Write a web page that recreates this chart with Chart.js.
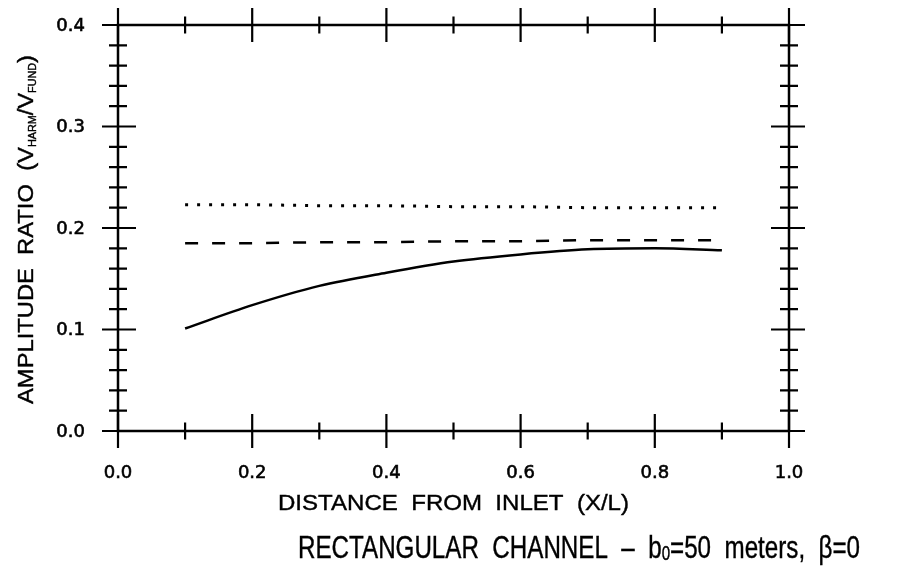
<!DOCTYPE html>
<html>
<head>
<meta charset="utf-8">
<script src="https://cdn.jsdelivr.net/npm/chart.js@4"></script>
<style>
  html, body { margin: 0; padding: 0; background: #fff; }
  canvas { display: block; }
</style>
</head>
<body>
<canvas id="chart" width="899" height="569"></canvas>
<script>
// values
const distance = [0.1, 0.2, 0.3, 0.4, 0.5, 0.6, 0.7, 0.8, 0.9];
const solidRatio = [0.101, 0.124, 0.143, 0.156, 0.167, 0.174, 0.179, 0.180, 0.178];
const dashedRatio = [0.185, 0.185, 0.186, 0.186, 0.187, 0.187, 0.188, 0.188, 0.188];
const dottedRatio = [0.223, 0.223, 0.222, 0.222, 0.221, 0.221, 0.220, 0.220, 0.220];
const xTicks = [0.0, 0.1, 0.2, 0.3, 0.4, 0.5, 0.6, 0.7, 0.8, 0.9, 1.0];
const xLabels = [0.0, 0.2, 0.4, 0.6, 0.8, 1.0];
const yTicks = [0, 0.02, 0.04, 0.06, 0.08, 0.1, 0.12, 0.14, 0.16, 0.18, 0.2, 0.22, 0.24, 0.26, 0.28, 0.3, 0.32, 0.34, 0.36, 0.38, 0.4];
const yLabels = [0.0, 0.1, 0.2, 0.3, 0.4];

const FONT = '"Liberation Sans", Arial, sans-serif';
const TICK_FONT = '"DejaVu Sans", sans-serif';
const INK = '#000';

const toPoints = (ys) => ys.map((y, i) => ({ x: distance[i], y }));

// text with a thin outline so it looks like pen-plotter lettering
function inkText(ctx, text, x, y) {
  ctx.fillText(text, x, y);
  ctx.strokeText(text, x, y);
}

// draws text squeezed/stretched to a given width
function fitText(ctx, pieces, x, y, width) {
  let total = 0;
  pieces.forEach(p => {
    ctx.font = `${p.size}px ${FONT}`;
    total += ctx.measureText(p.text).width;
  });
  ctx.save();
  ctx.translate(x, y);
  ctx.scale(width / total, 1);
  let cx = 0;
  pieces.forEach(p => {
    ctx.font = `${p.size}px ${FONT}`;
    inkText(ctx, p.text, cx, p.dy || 0);
    cx += ctx.measureText(p.text).width;
  });
  ctx.restore();
}

const framePlugin = {
  id: 'frame',
  afterDraw(chart) {
    const ctx = chart.ctx;
    const xs = chart.scales.x;
    const ys = chart.scales.y;
    const { left, right, top, bottom } = chart.chartArea;
    ctx.save();
    ctx.strokeStyle = INK;
    ctx.fillStyle = INK;
    ctx.lineWidth = 2.5;
    ctx.lineCap = 'butt';
    ctx.strokeRect(left, top, right - left, bottom - top);

    ctx.lineWidth = 2.2;
    xTicks.forEach((v, i) => {
      const px = xs.getPixelForValue(v);
      const len = i % 2 === 0 ? 17 : 8.5;
      ctx.beginPath();
      ctx.moveTo(px, bottom - len); ctx.lineTo(px, bottom + len);
      ctx.moveTo(px, top - len); ctx.lineTo(px, top + len);
      ctx.stroke();
    });
    yTicks.forEach((v, i) => {
      const py = ys.getPixelForValue(v);
      const major = i % 5 === 0;
      const inL = major ? 18 : 9, outL = major ? 16 : 9;
      ctx.beginPath();
      ctx.moveTo(left - outL, py); ctx.lineTo(left + inL, py);
      ctx.moveTo(right - inL, py); ctx.lineTo(right + outL, py);
      ctx.stroke();
    });

    // tick labels
    ctx.lineWidth = 0.6;
    ctx.font = `18px ${TICK_FONT}`;
    ctx.textBaseline = 'middle';
    ctx.textAlign = 'right';
    yLabels.forEach(v => {
      inkText(ctx, v.toFixed(1), 85, ys.getPixelForValue(v) + 1);
    });
    ctx.textAlign = 'center';
    xLabels.forEach(v => {
      inkText(ctx, v.toFixed(1), xs.getPixelForValue(v), 473);
    });

    ctx.lineWidth = 0.4;
    ctx.textAlign = 'left';
    ctx.textBaseline = 'alphabetic';
    // x title
    fitText(ctx, [{ text: 'DISTANCE  FROM  INLET  (X/L)', size: 22 }], 278, 510, 351);

    // caption
    fitText(ctx, [
      { text: 'RECTANGULAR  CHANNEL  \u2013  b', size: 32 },
      { text: '0', size: 20, dy: 2 },
      { text: '=50  meters,  ', size: 32 },
      { text: '\u03b2=0', size: 32 }
    ], 298, 558, 562);

    // y title, rotated
    ctx.save();
    ctx.translate(33, 404);
    ctx.rotate(-Math.PI / 2);
    fitText(ctx, [
      { text: 'AMPLITUDE  RATIO  (V', size: 22 },
      { text: 'HARM', size: 10, dy: 3 },
      { text: '/V', size: 22 },
      { text: 'FUND', size: 10, dy: 3 },
      { text: ')', size: 22 }
    ], 0, 0, 349);
    ctx.restore();
    ctx.restore();
  }
};

new Chart(document.getElementById('chart'), {
  type: 'line',
  data: {
    datasets: [
      {
        label: 'solid',
        data: toPoints(solidRatio),
        borderColor: INK,
        borderWidth: 2.5,
        pointRadius: 0,
        cubicInterpolationMode: 'monotone',
      },
      {
        label: 'dashed',
        data: toPoints(dashedRatio),
        borderColor: INK,
        borderWidth: 2.5,
        borderDash: [13, 14],
        pointRadius: 0,
      },
      {
        label: 'dotted',
        data: toPoints(dottedRatio),
        borderColor: INK,
        borderWidth: 3,
        borderDash: [3, 9],
        pointRadius: 0,
      },
    ],
  },
  options: {
    responsive: false,
    animation: false,
    devicePixelRatio: 1,
    layout: { padding: { left: 118, right: 110, top: 25, bottom: 138 } },
    plugins: { legend: { display: false }, tooltip: { enabled: false } },
    scales: {
      x: { type: 'linear', min: 0, max: 1, display: false },
      y: { type: 'linear', min: 0, max: 0.4, display: false },
    },
  },
  plugins: [framePlugin],
});
</script>
</body>
</html>
